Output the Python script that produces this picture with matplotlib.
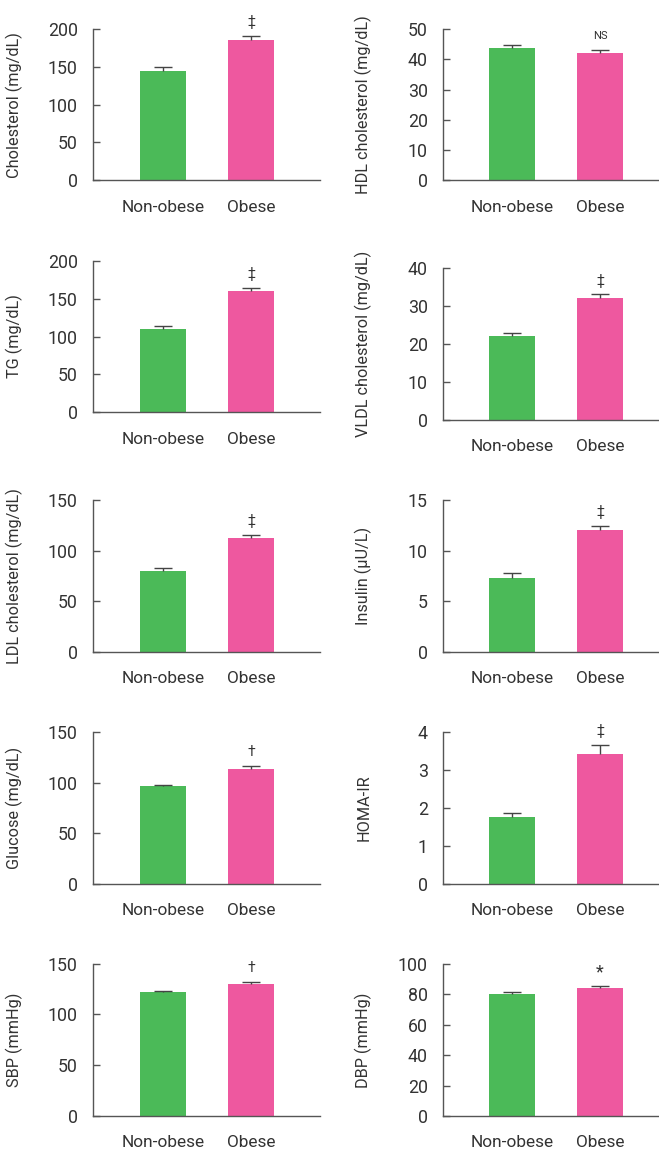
import matplotlib
matplotlib.use("Agg")
import matplotlib.pyplot as plt

plt.rcParams['font.family'] = ['Roboto', 'DejaVu Sans']

groups = ["Non-obese", "Obese"]

labels = ["Cholesterol (mg/dL)", "HDL cholesterol (mg/dL)",
          "TG (mg/dL)", "VLDL cholesterol (mg/dL)",
          "LDL cholesterol (mg/dL)", "Insulin (\u00b5U/L)",
          "Glucose (mg/dL)", "HOMA-IR",
          "SBP (mmHg)", "DBP (mmHg)"]

means = [[145, 186], [43.6, 42.0],
         [110, 160], [22.1, 32.2],
         [79.8, 112.5], [7.3, 12.0],
         [96.6, 113.4], [1.76, 3.43],
         [122.1, 130.0], [80.3, 84.2]]

errors = [[4.5, 4.5], [1.1, 1.1],
          [4.2, 4.4], [0.9, 0.9],
          [2.7, 2.9], [0.46, 0.46],
          [0.7, 3.3], [0.10, 0.23],
          [1.3, 1.6], [1.1, 1.1]]

yticks = [[0, 50, 100, 150, 200], [0, 10, 20, 30, 40, 50],
          [0, 50, 100, 150, 200], [0, 10, 20, 30, 40],
          [0, 50, 100, 150], [0, 5, 10, 15],
          [0, 50, 100, 150], [0, 1, 2, 3, 4],
          [0, 50, 100, 150], [0, 20, 40, 60, 80, 100]]

marks = ["\u2021", "NS", "\u2021", "\u2021", "\u2021", "\u2021", "\u2020", "\u2021", "\u2020", "*"]

colors = ["#4bba58", "#ee589f"]
text_color = "#333333"
spine_color = "#555555"
err_color = "#444444"

W, H = 659, 1151
fig = plt.figure(figsize=(W / 100, H / 100), dpi=100)

# pixel layout: (left, right) and (top, zero)
left_x = (93, 320)
right_x = (443, 658)
rows_left = [(29.0, 180.3), (260.7, 412.3), (500, 651.7), (732, 883.7), (963.7, 1115.7)]
rows_right = [(29.0, 180.3), (268.3, 419.7), (500, 651.7), (732.3, 883.7), (964, 1116)]

for i in range(10):
    r, c = divmod(i, 2)
    xs = left_x if c == 0 else right_x
    top, zero = (rows_left if c == 0 else rows_right)[r]
    ax = fig.add_axes([xs[0] / W, 1 - zero / H, (xs[1] - xs[0]) / W, (zero - top) / H])
    x = [0, 1]
    ax.bar(x, means[i], width=0.523, color=colors, zorder=2)
    ax.errorbar(x, means[i], yerr=[[0, 0], errors[i]], fmt='none', ecolor=err_color,
                elinewidth=1.0, capsize=0, zorder=3)
    tops = [m + e for m, e in zip(means[i], errors[i])]
    ax.plot(x, tops, linestyle='none', marker='_', markersize=13,
            markeredgewidth=1.0, color=err_color, zorder=3)
    if c == 0:
        ax.set_xlim(-0.795, 1.784)
        ax.yaxis.set_label_coords(-70 / 227, 0.5)
    else:
        ax.set_xlim(-0.784, 1.66)
        ax.yaxis.set_label_coords(-71 / 215, 0.5)
    ax.set_ylim(yticks[i][0], yticks[i][-1])
    ax.set_yticks(yticks[i])
    ax.set_xticks(x)
    ax.set_xticklabels(groups)
    for s in ['top', 'right']:
        ax.spines[s].set_visible(False)
    for s in ['left', 'bottom']:
        ax.spines[s].set_color(spine_color)
        ax.spines[s].set_linewidth(1.0)
    ax.tick_params(axis='y', direction='in', length=5, width=1.0, color=spine_color,
                   labelsize=12.8, labelcolor=text_color, pad=11)
    ax.tick_params(axis='x', length=0, labelsize=12.4, labelcolor=text_color, pad=14)
    ax.set_ylabel(labels[i], fontsize=11.7, color=text_color)
    m = marks[i]
    fs = 8 if m == "NS" else (13 if m == "*" else 10)
    ax.annotate(m, xy=(1, tops[1]), xytext=(0, 10),
                textcoords='offset points', ha='center', va='center',
                fontsize=fs, color=text_color)

fig.savefig("out.png", dpi=100)
